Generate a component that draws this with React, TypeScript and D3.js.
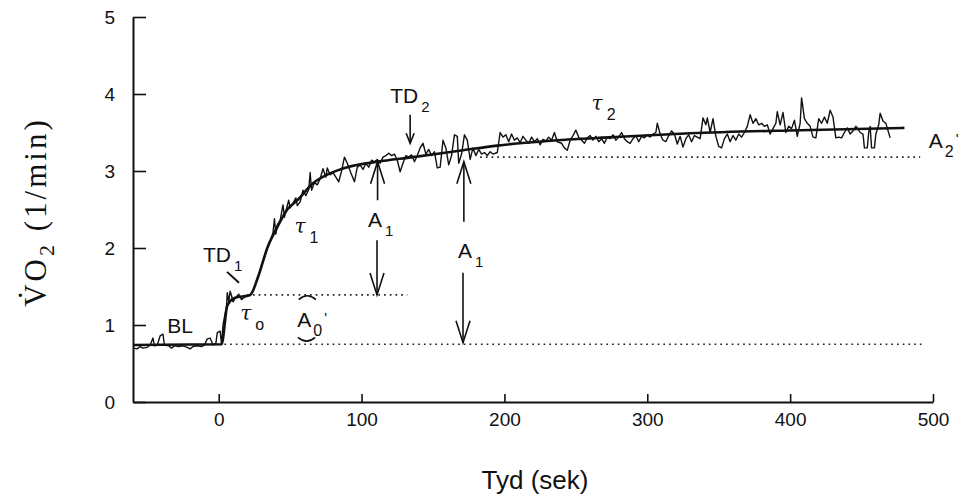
import React, { useEffect, useRef } from 'react';
import * as d3 from 'd3';

const xTicks = [0, 100, 200, 300, 400, 500];
const yTicks = [0, 1, 2, 3, 4, 5];

// fitted model curve (time in s, VO2 in l/min)
const fitCurve: [number, number][] = [
  [-60, 0.74], [2, 0.75], [6, 1.25], [11, 1.35], [22, 1.39], [28, 1.65],
  [34, 2.0], [41, 2.27], [48, 2.5], [55, 2.62], [66, 2.84], [78, 2.97],
  [90, 3.05], [111, 3.12], [136, 3.18], [171, 3.27], [195, 3.33],
  [230, 3.39], [276, 3.44], [330, 3.49], [407, 3.53], [480, 3.56],
];

// breath-by-breath trace
const trace: [number, number][] = [
  [-60, 0.7], [-57, 0.69], [-55, 0.72], [-53, 0.7], [-50, 0.71], [-48, 0.74],
  [-46, 0.83], [-45, 0.73], [-43, 0.74], [-41, 0.86], [-39, 0.88], [-38, 0.74],
  [-35, 0.73], [-33, 0.7], [-31, 0.73], [-28, 0.72], [-25, 0.73], [-22, 0.71],
  [-20, 0.69], [-18, 0.72], [-15, 0.73], [-12, 0.72], [-10, 0.74], [-8, 0.82],
  [-6, 0.83], [-4, 0.74], [-2, 0.76], [-1, 0.9], [1, 0.92], [2, 0.75],
  [3, 1.0], [4, 1.1], [5.5, 1.25], [6, 1.42], [7, 1.3], [8, 1.44], [9, 1.38],
  [10, 1.3], [12, 1.36], [14, 1.4], [16, 1.33], [18, 1.36], [20, 1.38], [22, 1.39],
  [24, 1.45], [26, 1.55], [28, 1.65], [30, 1.78], [32, 1.88], [34, 2.0],
  [36, 2.08], [38, 2.2], [39, 2.38], [40, 2.18], [41, 2.3], [43, 2.36],
  [45, 2.56], [46, 2.4], [47, 2.48], [49, 2.62], [50, 2.52], [52, 2.58],
  [54, 2.65], [55, 2.55], [57, 2.6], [59, 2.75], [61, 2.68], [63, 2.76],
  [64, 2.98], [65, 2.75], [67, 2.85], [69, 2.82], [71, 2.9], [73, 3.03],
  [75, 2.92], [76, 3.04], [78, 2.95], [80, 2.98], [82, 2.92], [84, 2.86],
  [86, 3.0], [88, 3.18], [90, 3.1], [92, 3.0], [95, 2.86], [97, 3.05],
  [99, 3.08], [101, 3.02], [103, 3.1], [105, 3.05], [107, 3.14], [109, 3.12],
  [111, 3.15], [113, 3.1], [115, 3.18], [117, 3.2], [119, 3.23], [121, 3.2],
  [123, 3.22], [125, 3.14], [127, 2.99], [129, 3.1], [131, 3.2], [133, 3.18],
  [135, 3.21], [137, 3.12], [139, 3.2], [141, 3.3], [143, 3.36], [145, 3.22],
  [147, 3.28], [149, 3.2], [151, 3.25], [153, 3.04], [155, 3.05], [157, 3.4],
  [159, 3.3], [161, 3.08], [163, 3.2], [165, 3.47], [167, 3.45], [168, 3.1],
  [170, 3.22], [172, 3.47], [174, 3.4], [176, 3.15], [178, 3.3], [180, 3.2],
  [182, 3.28], [184, 3.22], [186, 3.24], [188, 3.2], [190, 3.25], [192, 3.22],
  [195, 3.24], [197, 3.5], [199, 3.44], [201, 3.47], [203, 3.38], [205, 3.48],
  [207, 3.4], [209, 3.43], [211, 3.37], [213, 3.45], [215, 3.4], [217, 3.36],
  [219, 3.44], [221, 3.38], [223, 3.42], [225, 3.34], [227, 3.41], [229, 3.39],
  [231, 3.44], [233, 3.4], [235, 3.5], [237, 3.38], [240, 3.36], [242, 3.3],
  [244, 3.27], [246, 3.4], [248, 3.46], [250, 3.53], [252, 3.44], [254, 3.4],
  [256, 3.36], [258, 3.43], [260, 3.46], [262, 3.4], [264, 3.45], [266, 3.38],
  [268, 3.42], [270, 3.36], [272, 3.44], [274, 3.42], [276, 3.47], [278, 3.4],
  [280, 3.44], [282, 3.5], [284, 3.42], [286, 3.38], [288, 3.36], [290, 3.42],
  [292, 3.46], [294, 3.38], [296, 3.45], [298, 3.43], [300, 3.47], [302, 3.44],
  [304, 3.48], [306, 3.5], [307, 3.62], [309, 3.48], [311, 3.4], [313, 3.38],
  [315, 3.46], [317, 3.52], [319, 3.48], [321, 3.35], [323, 3.45], [325, 3.31],
  [327, 3.42], [329, 3.47], [331, 3.38], [333, 3.46], [335, 3.44], [337, 3.42],
  [339, 3.69], [341, 3.6], [342, 3.69], [344, 3.5], [346, 3.68], [348, 3.45],
  [350, 3.32], [352, 3.3], [354, 3.42], [356, 3.48], [358, 3.38], [360, 3.46],
  [362, 3.4], [364, 3.48], [366, 3.44], [368, 3.5], [370, 3.58], [372, 3.73],
  [374, 3.62], [376, 3.68], [378, 3.6], [380, 3.62], [382, 3.58], [384, 3.6],
  [386, 3.48], [388, 3.55], [390, 3.62], [391, 3.77], [393, 3.6], [395, 3.76],
  [397, 3.5], [399, 3.58], [401, 3.55], [403, 3.66], [405, 3.45], [407, 3.62],
  [408, 3.95], [410, 3.68], [412, 3.62], [414, 3.58], [416, 3.44], [418, 3.43],
  [420, 3.68], [422, 3.62], [424, 3.7], [426, 3.62], [428, 3.79], [430, 3.7],
  [432, 3.43], [434, 3.44], [436, 3.43], [438, 3.5], [440, 3.56], [442, 3.48],
  [444, 3.52], [446, 3.58], [447, 3.56], [449, 3.5], [451, 3.48], [452, 3.3],
  [454, 3.3], [455, 3.5], [456, 3.58], [457, 3.3], [459, 3.3], [460, 3.48],
  [462, 3.6], [463, 3.75], [465, 3.65], [467, 3.62], [470, 3.43],
];

// dotted reference levels: [level, from, to]
const levels: [number, number, number][] = [
  [0.75, 4, 494],
  [1.39, 20, 132],
  [3.18, 183, 491],
];

// labels: [text, sub, t, v]
const labels: [string, string, number, number][] = [
  ['BL', '', -36, 0.9],
  ['TD', '1', -11, 1.82],
  ['A', '1', 104.5, 2.27],
  ['A', '1', 167.5, 1.87],
  ['TD', '2', 120, 3.88],
];
const taus: [string, number, number][] = [
  ['o', 15, 1.06],
  ['1', 53, 2.19],
  ['2', 261, 3.79],
];
const primes: [string, number, number][] = [
  ['0', 55, 0.97],
  ['2', 497, 3.3],
];

// arrows: [t, from, to] (head at "to")
const arrows: [number, number, number][] = [
  [111.2, 2.62, 3.12],
  [110.8, 2.1, 1.39],
  [171.6, 2.34, 3.12],
  [171, 1.68, 0.77],
  [134, 3.73, 3.36],
];

const sans = '"Liberation Sans", Arial, sans-serif';

const App = () => {
  const xRef = useRef<SVGGElement>(null);
  const yRef = useRef<SVGGElement>(null);

  const x = d3.scaleLinear().domain([-60, 500]).range([133, 933]);
  const y = d3.scaleLinear().domain([0, 5]).range([402, 17]);

  useEffect(() => {
    const gx = d3.select(xRef.current);
    gx.call(
      d3.axisBottom(x).tickValues(xTicks).tickFormat(d3.format('d'))
        .tickSizeInner(-8).tickSizeOuter(0).tickPadding(11)
    );
    const gy = d3.select(yRef.current);
    gy.call(
      d3.axisLeft(y).tickValues(yTicks).tickFormat(d3.format('d'))
        .tickSizeInner(-13).tickSizeOuter(0).tickPadding(18)
    );
    [gx, gy].forEach((g) => {
      g.attr('font-family', sans).attr('font-size', 19);
      g.select('.domain').attr('stroke', '#111').attr('stroke-width', 2);
      g.selectAll('.tick line').attr('stroke', '#111').attr('stroke-width', 1.6);
      g.selectAll('.tick text').attr('fill', '#111');
    });
  }, []);

  const line = d3.line<[number, number]>().x((d) => x(d[0])).y((d) => y(d[1]));
  const fitLine = d3
    .line<[number, number]>()
    .x((d) => x(d[0]))
    .y((d) => y(d[1]))
    .curve(d3.curveMonotoneX);

  return (
    <svg width={965} height={496} style={{ position: 'absolute', left: 0, top: 0, background: '#fff' }}>
      <g ref={xRef} transform={`translate(0,${y(0)})`} />
      <g ref={yRef} transform={`translate(${x(-60)},0)`} />

      {levels.map(([v, a, b], i) => (
        <line key={i} x1={x(a)} x2={x(b)} y1={y(v)} y2={y(v)}
          stroke="#222" strokeWidth={1.7} strokeDasharray="1.7 4" />
      ))}

      <path d={line(trace) || ''} fill="none" stroke="#111" strokeWidth={1.4} strokeLinejoin="round" />
      <path d={fitLine(fitCurve) || ''} fill="none" stroke="#111" strokeWidth={2.6} />

      {arrows.map(([t, a, b], i) => {
        const px = x(t);
        const tip = y(b);
        const dir = b > a ? 1 : -1; // 1 => pointing up
        const hl = i === 4 ? 10 : 22;
        const hw = i === 4 ? 4 : 7;
        return (
          <g key={i} stroke="#111" strokeWidth={1.6} fill="none">
            <line x1={px} x2={px} y1={y(a)} y2={tip} />
            <polyline points={`${px - hw},${tip + dir * hl} ${px},${tip} ${px + hw},${tip + dir * hl}`} />
          </g>
        );
      })}

      {/* TD1 pointer */}
      <line x1={x(5.8)} y1={y(1.69)} x2={x(14.2)} y2={y(1.55)} stroke="#111" strokeWidth={2} />

      {/* braces around A0' */}
      <path d={`M${x(56)},${y(1.33)} Q${x(62)},${y(1.43)} ${x(68)},${y(1.33)}`}
        fill="none" stroke="#111" strokeWidth={1.6} />
      <path d={`M${x(55.5)},${y(0.84)} Q${x(61.5)},${y(0.74)} ${x(67.5)},${y(0.84)}`}
        fill="none" stroke="#111" strokeWidth={1.6} />

      <g fontFamily={sans} fontSize={21} fill="#111">
        {labels.map(([s, sub, t, v], i) => (
          <text key={i} x={x(t)} y={y(v)}>
            {s}
            {sub && <tspan dx={3} dy={9} fontSize={15}>{sub}</tspan>}
          </text>
        ))}
        {taus.map(([sub, t, v], i) => (
          <text key={i} x={x(t)} y={y(v)} fontFamily='"DejaVu Serif", serif' fontStyle="italic" fontSize={20}>
            τ
            <tspan dx={4} dy={10} fontFamily={sans} fontStyle="normal" fontSize={16}>{sub}</tspan>
          </text>
        ))}
        {primes.map(([sub, t, v], i) => (
          <text key={i} x={x(t)} y={y(v)}>
            A
            <tspan dx={2} dy={9} fontSize={16}>{sub}</tspan>
            <tspan dx={2} dy={-13} fontSize={15}>'</tspan>
          </text>
        ))}
      </g>

      <text x={535} y={489} textAnchor="middle" fontFamily={sans} fontSize={26} fill="#111">
        Tyd (sek)
      </text>
      <text transform="translate(46,212) rotate(-90)" textAnchor="middle"
        fontFamily='"Liberation Serif", "DejaVu Serif", serif' fontSize={31} fill="#111" letterSpacing={3}>
        V̇O<tspan dy={8} fontSize={22}>2</tspan><tspan dy={-8}> (1/min)</tspan>
      </text>
    </svg>
  );
};

export default App;
